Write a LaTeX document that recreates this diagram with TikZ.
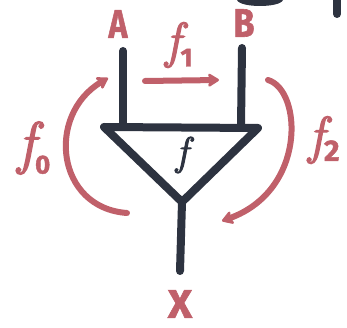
\documentclass[tikz,border=0pt]{standalone}
\usepackage{fontspec}
\setsansfont{Fira Sans}
\newfontfamily\handital[FakeBold=2.5]{Latin Modern Roman}
\newfontfamily\handsans[FakeBold=1.5]{Fira Sans}
\usetikzlibrary{arrows.meta}
\definecolor{wire}{HTML}{2D3340}
\definecolor{rosy}{HTML}{C0606A}
\newcommand{\flab}[4]{{\handital\itshape\fontsize{#1}{#1}\selectfont f}\kern0pt\raisebox{#3}{\handsans\bfseries\fontsize{#2}{#2}\selectfont #4}}
\begin{document}
\begin{tikzpicture}[x=1pt,y=-1pt,
  wireline/.style={draw=wire,line width=8pt,line cap=round,line join=round},
  redline/.style={draw=rosy,line width=6pt,line cap=round},
  redarrow/.style={redline,-{Stealth[length=13pt,width=16pt,round,inset=3pt]}},
  lbl/.style={text=rosy,font=\handsans\bfseries\fontsize{40}{40}\selectfont,inner sep=0pt},
  flbl/.style={text=rosy,inner sep=0pt},
  fin/.style={text=wire,font=\handital\itshape\fontsize{40}{40}\selectfont,inner sep=0pt}]
\useasboundingbox (0,0) rectangle (347,328);
% partial shapes at the top right edge
\fill[wire] (237,0) .. controls (240,8) and (280,8) .. (283,0) -- cycle;
\coordinate (edgeTop) at (337,0);
\coordinate (edgeBot) at (337,14);
\draw[wireline] (edgeTop) -- (edgeBot);
% labels
\node[lbl,xscale=0.8] (A) at (118,24) {A};
\node[lbl,xscale=0.85] (B) at (244,23) {B};
\node[lbl,xscale=1.05] (X) at (180,304) {X};
\node[flbl] (f1) at (179,45) {\flab{50}{26}{-9pt}{1}};
\node[flbl] (f0) at (34,148) {\flab{58}{26}{-11pt}{0}};
\node[flbl] (f2) at (324,140) {\flab{52}{30}{-8pt}{2}};
\node[fin] (f) at (182,155) {f};
% wires
\coordinate (aTop) at (123,51);
\coordinate (aBot) at (123,126);
\coordinate (bTop) at (242,48);
\coordinate (bBot) at (241,126);
\coordinate (tl) at (104,127);
\coordinate (tr) at (258,128);
\coordinate (bv) at (182,202);
\coordinate (xEnd) at (180,271);
\draw[wireline] (aTop) -- (aBot);
\draw[wireline] (bTop) -- (bBot);
\draw[wireline] (tl) -- (tr) -- (bv) -- cycle;
\draw[wireline] (bv) -- (xEnd);
% red arrows
\coordinate (g1s) at (145,81);
\coordinate (g1e) at (219,80);
\draw[redarrow] (g1s) -- (g1e);
\coordinate (g0s) at (127,213);
\coordinate (g0e) at (108,78);
\draw[redarrow] (g0s) .. controls (56,208) and (46,115) .. (g0e);
\coordinate (g2s) at (268,80);
\coordinate (g2e) at (222,221);
\draw[redarrow] (g2s) .. controls (302,90) and (307,190) .. (g2e);
\end{tikzpicture}
\end{document}
